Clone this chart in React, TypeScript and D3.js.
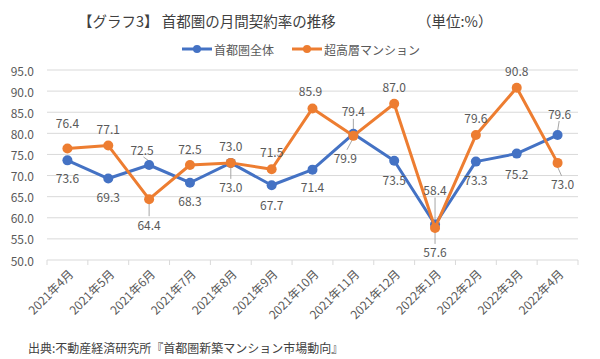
import React from "react";
import * as d3 from "d3";

const categories = [
  "2021年4月", "2021年5月", "2021年6月", "2021年7月", "2021年8月", "2021年9月",
  "2021年10月", "2021年11月", "2021年12月", "2022年1月", "2022年2月", "2022年3月", "2022年4月",
];
const totalValues = [73.6, 69.3, 72.5, 68.3, 73.0, 67.7, 71.4, 79.9, 73.5, 58.4, 73.3, 75.2, 79.6];
const towerValues = [76.4, 77.1, 64.4, 72.5, 73.0, 71.5, 85.9, 79.4, 87.0, 57.6, 79.6, 90.8, 73.0];
const yTicks = [50, 55, 60, 65, 70, 75, 80, 85, 90, 95];
const seriesNames = ["首都圏全体", "超高層マンション"];

// label placement (offset of label centre from point, px) and leader flags
const totalLabelDy = [17, 18, -16, 18, 24, 19, 17, 24, 19, -35, 18, 20, -22];
const totalLabelDx = [0, 0, -7, 0, 0, 0, 0, -8, 0, 0, 0, 0, 2];
const totalLeader = [0, 0, 1, 0, 1, 0, 0, 1, 0, 1, 0, 0, 1];
const towerLabelDy = [-26, -17, 25, -17, -17, -18, -18, -25, -17, 24, -18, -17, 21];
const towerLabelDx = [0, 0, 0, 0, 0, 0, -2, 0, 0, 0, 0, 0, 5];
const towerLeader = [0, 0, 1, 0, 0, 0, 0, 1, 0, 1, 0, 0, 1];

const W = 600;
const H = 359;
const FONT = "'Noto Sans CJK JP', 'Noto Sans', sans-serif";
const BLUE = "#4472c4";
const ORANGE = "#ed7d31";
const TXT = "#595959";

export default function App() {
  const x = d3.scaleBand<string>().domain(categories).range([47, 578]).padding(0);
  const y = d3.scaleLinear().domain([50, 95]).range([260, 70]);
  const cx = (c: string) => (x(c) as number) + x.bandwidth() / 2;

  const line = d3
    .line<number>()
    .x((_, i) => cx(categories[i]))
    .y((d) => y(d));

  const series = [
    { name: seriesNames[0], color: BLUE, values: totalValues, dy: totalLabelDy, dx: totalLabelDx, leader: totalLeader },
    { name: seriesNames[1], color: ORANGE, values: towerValues, dy: towerLabelDy, dx: towerLabelDx, leader: towerLeader },
  ];

  const ticksX = d3.range(categories.length + 1).map((i) => 47 + i * x.bandwidth());

  return (
    <svg width={W} height={H} style={{ position: "absolute", left: 0, top: 0, background: "#fff" }} fontFamily={FONT}>
      <rect width={W} height={H} fill="#fff" />
      {/* title */}
      <text x={78} y={20} fontSize={14.5} fill="#404040" dominantBaseline="central">
        【グラフ3】 首都圏の月間契約率の推移
      </text>
      <text x={417} y={20} fontSize={14.5} fill="#404040" dominantBaseline="central">
        （単位:%）
      </text>
      {/* legend */}
      {series.map((s, i) => {
        const lx = i === 0 ? 182 : 292;
        return (
          <g key={s.name}>
            <line x1={lx} x2={lx + 30} y1={49} y2={49} stroke={s.color} strokeWidth={3} />
            <circle cx={lx + 15} cy={49} r={4} fill={s.color} />
            <text x={lx + 32} y={49} fontSize={12} fill={TXT} dominantBaseline="central">
              {s.name}
            </text>
          </g>
        );
      })}
      {/* grid */}
      {yTicks.map((t) => (
        <g key={t}>
          <line x1={47} x2={578} y1={y(t)} y2={y(t)} stroke="#d9d9d9" strokeWidth={1} />
          <text x={34} y={y(t)} fontSize={12} fill={TXT} textAnchor="end" dominantBaseline="central">
            {d3.format(".1f")(t)}
          </text>
        </g>
      ))}
      {ticksX.map((tx, i) => (
        <line key={i} x1={tx} x2={tx} y1={260} y2={265} stroke="#d9d9d9" strokeWidth={1} />
      ))}
      {categories.map((c) => (
        <text
          key={c}
          x={0}
          y={0}
          fontSize={12}
          fill={TXT}
          textAnchor="end"
          dominantBaseline="central"
          transform={`translate(${cx(c) + 3},${271}) rotate(-45)`}
        >
          {c}
        </text>
      ))}
      {/* leaders */}
      {series.map((s) =>
        s.values.map((v, i) => {
          if (!s.leader[i]) return null;
          const px = cx(categories[i]);
          const py = y(v);
          const lx = px + s.dx[i];
          const ly = py + s.dy[i];
          const sgn = Math.sign(s.dy[i]);
          return (
            <line
              key={s.name + "l" + i}
              x1={lx + (px - lx) * 0.2}
              y1={ly - sgn * 8}
              x2={px}
              y2={py + sgn * 4}
              stroke="#a6a6a6"
              strokeWidth={1}
            />
          );
        })
      )}
      {/* lines */}
      {series.map((s) => (
        <g key={s.name}>
          <path d={line(s.values) || ""} fill="none" stroke={s.color} strokeWidth={3} strokeLinejoin="round" />
          {s.values.map((v, i) => (
            <circle key={i} cx={cx(categories[i])} cy={y(v)} r={5} fill={s.color} />
          ))}
        </g>
      ))}
      {/* labels */}
      {series.map((s) =>
        s.values.map((v, i) => (
          <text
            key={s.name + "t" + i}
            x={cx(categories[i]) + s.dx[i]}
            y={y(v) + s.dy[i]}
            fontSize={12}
            fill={TXT}
            textAnchor="middle"
            dominantBaseline="central"
          >
            {d3.format(".1f")(v)}
          </text>
        ))
      )}
      {/* source */}
      <text x={28} y={347} fontSize={12} fill="#404040" dominantBaseline="central">
        出典:不動産経済研究所『首都圏新築マンション市場動向』
      </text>
    </svg>
  );
}
